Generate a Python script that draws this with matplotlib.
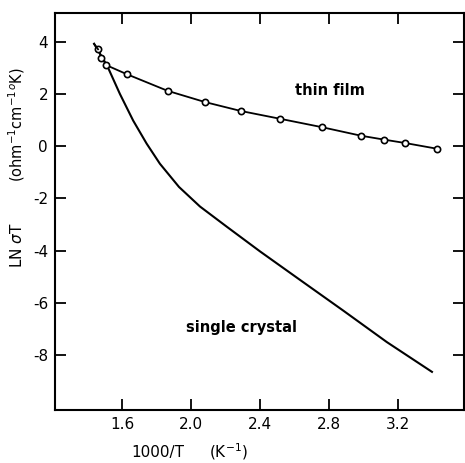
import matplotlib.pyplot as plt

# thin film data (open circles)
film_x = [1.46, 1.48, 1.509, 1.626, 1.864, 2.081, 2.288, 2.517, 2.759, 2.988, 3.123, 3.245, 3.431]
film_y = [3.71, 3.39, 3.10, 2.76, 2.12, 1.69, 1.35, 1.05, 0.73, 0.40, 0.25, 0.12, -0.10]

# single crystal curve
xtal_x = [1.437, 1.475, 1.513, 1.587, 1.664, 1.742, 1.819, 1.93, 2.052, 2.207, 2.401,
          2.633, 2.885, 3.137, 3.399]
xtal_y = [3.92, 3.50, 3.08, 2.00, 0.98, 0.10, -0.67, -1.56, -2.31, -3.08, -4.03,
          -5.12, -6.30, -7.50, -8.64]

xticks = [1.6, 2.0, 2.4, 2.8, 3.2]
yticks = [4, 2, 0, -2, -4, -6, -8]

plt.rcParams['font.family'] = ['DejaVu Sans']
plt.rcParams['axes.unicode_minus'] = False

fig = plt.figure(figsize=(4.65, 4.63), dpi=100)
ax = fig.add_axes([55 / 465, 1 - 410 / 463, 409 / 465, 397 / 463])

ax.plot(xtal_x, xtal_y, color='black', lw=1.5)
ax.plot(film_x, film_y, color='black', lw=1.3, marker='o', ms=4.5,
        mfc='white', mec='black', mew=1.2)
ax.plot([1.437, film_x[0]], [3.92, film_y[0]], color='black', lw=1.3)

ax.set_xlim(1.21, 3.585)
ax.set_ylim(-10.1, 5.1)
ax.set_xticks(xticks)
ax.set_xticklabels(['1.6', '2.0', '2.4', '2.8', '3.2'])
ax.set_yticks(yticks)
ax.tick_params(direction='in', length=8, width=1.3, labelsize=11,
               top=True, right=True, pad=5)
for s in ax.spines.values():
    s.set_linewidth(1.5)

ax.text(2.808, 2.12, 'thin film', ha='center', va='center', fontsize=10.5, fontweight='bold')
ax.text(2.294, -6.94, 'single crystal', ha='center', va='center', fontsize=10.5,
        fontweight='bold')

fig.text(158 / 465, 1 - 452 / 463, '1000/T', ha='center', va='center', fontsize=11)
fig.text(228 / 465, 1 - 452 / 463, r'(K$^{-1}$)', ha='center', va='center', fontsize=11)
fig.text(17 / 465, 1 - 245 / 463, r'LN $\sigma$T', rotation=90, ha='center', va='center',
         fontsize=11)
fig.text(17 / 465, 1 - 125 / 463, r'(ohm$^{-1}$cm$^{-1}$$^{o}$K)', rotation=90,
         ha='center', va='center', fontsize=10.5)

fig.savefig('out.png', dpi=100)
